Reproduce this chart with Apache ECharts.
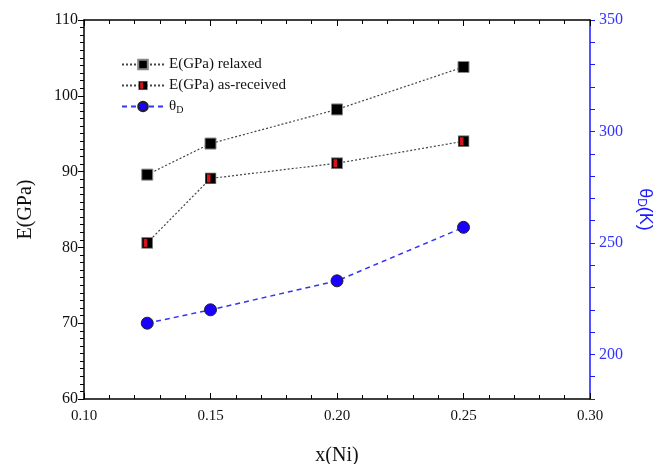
<!DOCTYPE html>
<html>
<head>
<meta charset="utf-8">
<script src="https://cdn.jsdelivr.net/npm/echarts@6/dist/echarts.min.js"></script>
<style>
  html, body { margin: 0; padding: 0; background: #fff; }
  #chart { width: 665px; height: 464px; }
</style>
</head>
<body>
<div id="chart"></div>
<script>
// values
var xNi = [0.125, 0.15, 0.2, 0.25];
var eRelaxed = [89.6, 93.7, 98.2, 103.8];
var eAsReceived = [80.6, 89.1, 91.1, 94.0];
var thetaD = [214, 220, 233, 257];

var SERIF = "'Liberation Serif', 'DejaVu Serif', serif";

function pairs(xs, ys) {
    return xs.map(function (x, i) { return [x, ys[i]]; });
}

// black square with a red stripe on the left for the as-received points
var halfSvg = '<svg xmlns="http://www.w3.org/2000/svg" width="12" height="12">' +
    '<rect x="0.5" y="0.5" width="11" height="11" fill="#000" stroke="#888" stroke-width="1"/>' +
    '<rect x="2.5" y="2" width="3.5" height="8" fill="#d4141a"/></svg>';
var halfSymbol = 'image://data:image/svg+xml;charset=utf-8,' + encodeURIComponent(halfSvg);

var chart = echarts.init(document.getElementById('chart'));

chart.setOption({
    animation: false,
    backgroundColor: '#fff',
    grid: { left: 84, right: 75, top: 20, bottom: 65, outerBoundsMode: 'none' },
    legend: {
        orient: 'vertical',
        left: 116,
        top: 52,
        itemGap: 6,
        itemWidth: 42,
        itemHeight: 12,
        textStyle: { fontFamily: SERIF, fontSize: 15, color: '#111',
            rich: { sub: { fontFamily: SERIF, fontSize: 10, verticalAlign: 'bottom', padding: [8, 0, 0, 0] } } },
        formatter: function (name) {
            if (name === 'theta') return 'θ{sub|D}';
            return name;
        },
        data: ['E(GPa) relaxed', 'E(GPa) as-received', 'theta']
    },
    xAxis: [{
        type: 'value',
        min: 0.1,
        max: 0.3,
        interval: 0.05,
        name: 'x(Ni)',
        nameLocation: 'middle',
        nameGap: 47,
        nameTextStyle: { fontFamily: SERIF, fontSize: 20, color: '#111' },
        axisLine: { lineStyle: { color: '#000', width: 1.5 } },
        axisTick: { inside: true, length: 6, lineStyle: { color: '#000' } },
        minorTick: { show: true, splitNumber: 5, length: 4, lineStyle: { color: '#000' } },
        axisLabel: { fontFamily: SERIF, fontSize: 15, color: '#111', margin: 10,
            formatter: function (v) { return v.toFixed(2); } },
        splitLine: { show: false }
    }, {
        type: 'value',
        position: 'top',
        min: 0.1,
        max: 0.3,
        interval: 0.05,
        axisLine: { lineStyle: { color: '#000', width: 1.5 } },
        axisTick: { inside: true, length: 6, lineStyle: { color: '#000' } },
        minorTick: { show: true, splitNumber: 5, length: 4, lineStyle: { color: '#000' } },
        axisLabel: { show: false },
        splitLine: { show: false }
    }],
    yAxis: [{
        type: 'value',
        min: 60,
        max: 110,
        interval: 10,
        name: 'E(GPa)',
        nameLocation: 'middle',
        nameGap: 48,
        nameTextStyle: { fontFamily: SERIF, fontSize: 20, color: '#111' },
        axisLine: { show: true, lineStyle: { color: '#000', width: 1.5 } },
        axisTick: { length: 6, lineStyle: { color: '#000' } },
        minorTick: { show: true, splitNumber: 10, length: 4, lineStyle: { color: '#000' } },
        axisLabel: { fontFamily: SERIF, fontSize: 16, color: '#111', margin: 6 },
        splitLine: { show: false }
    }, {
        type: 'value',
        position: 'right',
        min: 180,
        max: 350,
        interval: 10,
        name: 'θ{sub|D}(K)',
        nameLocation: 'middle',
        nameGap: 45,
        nameRotate: -90,
        nameTextStyle: { fontFamily: "'Liberation Sans', Arial, sans-serif", fontSize: 18, color: '#1a1aff',
            rich: { sub: { fontSize: 12, color: '#1a1aff', padding: [8, 0, 0, 0] } } },
        axisLine: { show: true, lineStyle: { color: '#1a1aff', width: 1.5 } },
        axisTick: { length: 5, lineStyle: { color: '#1a1aff' } },
        axisLabel: { fontFamily: SERIF, fontSize: 16, color: '#3333ff', margin: 9,
            formatter: function (v) { return v % 50 === 0 ? String(v) : ''; } },
        splitLine: { show: false }
    }],
    series: [{
        name: 'E(GPa) relaxed',
        type: 'line',
        data: pairs(xNi, eRelaxed),
        symbol: 'rect',
        symbolSize: 11,
        itemStyle: { color: '#000', borderColor: '#888', borderWidth: 1 },
        lineStyle: { color: '#444', width: 1.2, type: [2, 2] }
    }, {
        name: 'E(GPa) as-received',
        type: 'line',
        data: pairs(xNi, eAsReceived),
        symbol: halfSymbol,
        symbolSize: 12,
        itemStyle: { color: '#000' },
        lineStyle: { color: '#444', width: 1.2, type: [2, 2] }
    }, {
        name: 'theta',
        type: 'line',
        yAxisIndex: 1,
        data: pairs(xNi, thetaD),
        symbol: 'circle',
        symbolSize: 12,
        itemStyle: { color: '#1a00ff', borderColor: '#222', borderWidth: 1 },
        lineStyle: { color: '#3333ff', width: 1.5, type: [5, 4] }
    }]
});
</script>
</body>
</html>
